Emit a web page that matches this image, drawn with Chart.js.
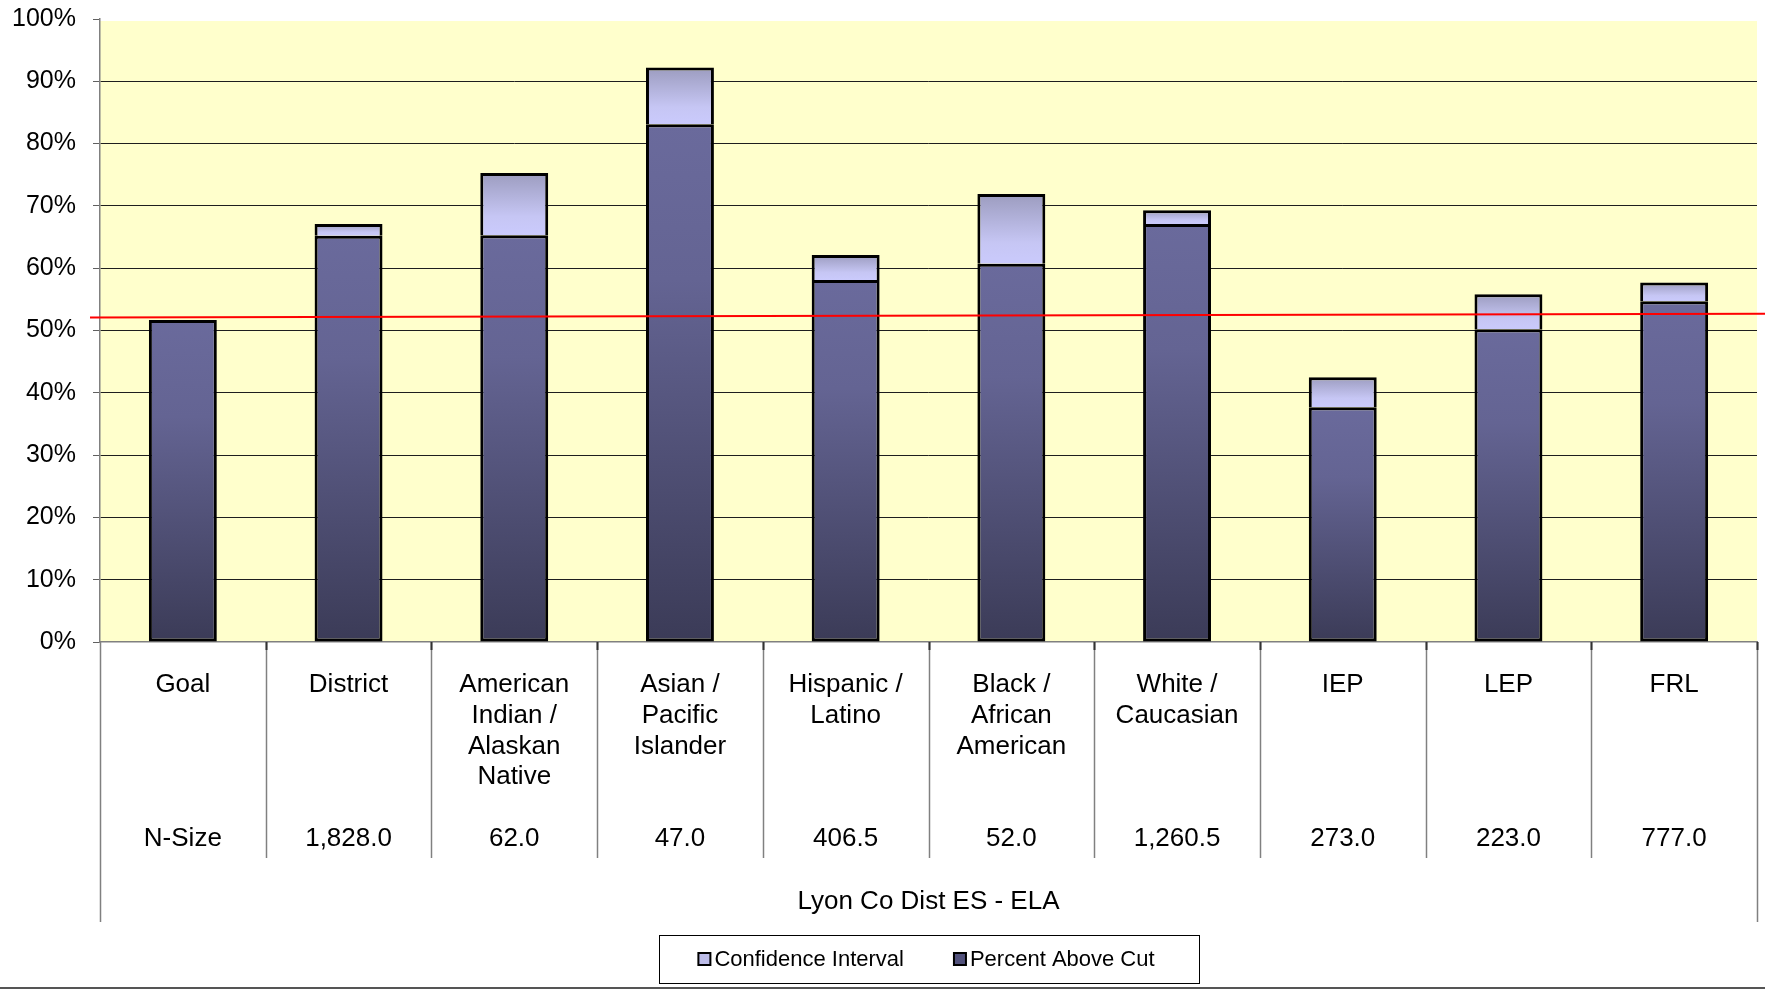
<!DOCTYPE html>
<html lang="en">
<head>
    <meta charset="UTF-8">
    <title>Lyon Co Dist ES - ELA</title>
    <script src="https://cdn.jsdelivr.net/npm/chart.js"></script>
    <style>
        body {
            margin: 0;
            background: #ffffff;
        }
        .chart-box {
            width: 1765px;
            height: 989px;
        }
    </style>
</head>
<body>
    <div class="chart-box">
        <canvas id="esChart" width="1765" height="989"></canvas>
    </div>

    <script>
        // category labels (lines as printed) and the N-Size row under them
        const categories = [
            ['Goal'],
            ['District'],
            ['American', 'Indian /', 'Alaskan', 'Native'],
            ['Asian /', 'Pacific', 'Islander'],
            ['Hispanic /', 'Latino'],
            ['Black /', 'African', 'American'],
            ['White /', 'Caucasian'],
            ['IEP'],
            ['LEP'],
            ['FRL']
        ];
        const nSizes = ['N-Size', '1,828.0', '62.0', '47.0', '406.5', '52.0', '1,260.5', '273.0', '223.0', '777.0'];

        // percent above cut (dark bars) and top of confidence interval (light caps)
        const percentAboveCut = [51.7, 65.2, 65.3, 83.1, 58.1, 60.7, 67.1, 37.7, 50.2, 54.7];
        const ciUpper = [null, 67.1, 75.3, 92.2, 62.1, 71.9, 69.3, 42.5, 55.8, 57.7];

        // red goal line, value at left edge and at right edge
        const goalLine = [52.1, 52.7];

        const yMin = 0, yMax = 100, yStep = 10;
        const axisTitle = 'Lyon Co Dist ES - ELA';

        const FONT = '"Liberation Sans", Arial, sans-serif';
        Chart.defaults.font.family = FONT;
        Chart.defaults.color = '#000000';

        // pad every label to the same number of lines so N-Size sits on one row
        const xLabels = categories.map(function (lines, i) {
            const out = lines.slice();
            while (out.length < 5) out.push('');
            out.push(nSizes[i]);
            return out;
        });

        const ciData = ciUpper.map(function (v, i) {
            return v === null ? null : [percentAboveCut[i], v];
        });

        function barGradient(context, stops, fallback) {
            const chart = context.chart;
            if (!chart.chartArea || context.raw === null || context.raw === undefined) return fallback;
            const y = chart.scales.y;
            let lo, hi;
            if (Array.isArray(context.raw)) {
                lo = context.raw[0];
                hi = context.raw[1];
            } else {
                lo = 0;
                hi = context.raw;
            }
            const top = y.getPixelForValue(hi);
            const bottom = y.getPixelForValue(lo);
            if (!(bottom > top)) return fallback;
            const g = chart.ctx.createLinearGradient(0, top, 0, bottom);
            stops.forEach(function (s) { g.addColorStop(s[0], s[1]); });
            return g;
        }

        const darkStops = [[0, '#6a6a9c'], [0.3, '#646493'], [1, '#3b3b57']];
        const ciStops = [[0, '#9c9cbf'], [0.7, '#c6c6f4'], [1, '#cacafc']];

        const tablePlugin = {
            id: 'tablePlugin',
            beforeDraw(chart) {
                const a = chart.chartArea;
                const ctx = chart.ctx;
                ctx.save();
                ctx.fillStyle = '#ffffcc';
                ctx.fillRect(a.left, a.top + 2, a.right - a.left, a.bottom - a.top - 2);
                ctx.restore();
            },
            afterDatasetsDraw(chart) {
                const a = chart.chartArea;
                const ctx = chart.ctx;
                const y = chart.scales.y;
                ctx.save();
                ctx.strokeStyle = '#ff0000';
                ctx.lineWidth = 2;
                ctx.beginPath();
                ctx.moveTo(a.left - 10, y.getPixelForValue(goalLine[0]));
                ctx.lineTo(chart.width, y.getPixelForValue(goalLine[1]));
                ctx.stroke();
                ctx.restore();
            },
            afterDraw(chart) {
                const a = chart.chartArea;
                const ctx = chart.ctx;
                const n = categories.length;
                const w = (a.right - a.left) / n;
                ctx.save();
                // table separators under the axis
                ctx.strokeStyle = '#808080';
                ctx.lineWidth = 1.5;
                for (let i = 0; i <= n; i++) {
                    const x = Math.round(a.left + i * w) + 0.5;
                    const end = (i === 0 || i === n) ? 922 : 858;
                    ctx.beginPath();
                    ctx.moveTo(x, a.bottom);
                    ctx.lineTo(x, end);
                    ctx.stroke();
                }
                ctx.strokeStyle = '#333333';
                ctx.lineWidth = 2;
                for (let i = 1; i <= n; i++) {
                    const x = Math.round(a.left + i * w) + 0.5;
                    ctx.beginPath();
                    ctx.moveTo(x, a.bottom);
                    ctx.lineTo(x, a.bottom + 8);
                    ctx.stroke();
                }

                // legend with box
                const cx = (a.left + a.right) / 2;
                const boxTop = chart.height - 54, boxBottom = chart.height - 6;
                const midY = (boxTop + boxBottom) / 2;
                ctx.strokeStyle = '#000000';
                ctx.lineWidth = 1;
                ctx.strokeRect(Math.round(cx - 270) + 0.5, boxTop + 0.5, 540, boxBottom - boxTop);

                ctx.font = '22px ' + FONT;
                ctx.textBaseline = 'middle';
                ctx.textAlign = 'left';
                const items = chart.data.datasets.slice().reverse();
                const sq = 12, gap = 4, between = 50;
                const widths = items.map(function (d) { return ctx.measureText(d.label).width; });
                let total = 0;
                widths.forEach(function (tw, i) { total += sq + gap + tw + (i > 0 ? between : 0); });
                let x = cx - total / 2 - 2;
                items.forEach(function (d, i) {
                    ctx.fillStyle = d.legendColor;
                    ctx.fillRect(x, midY - sq / 2, sq, sq);
                    ctx.lineWidth = 2;
                    ctx.strokeStyle = '#000000';
                    ctx.strokeRect(x, midY - sq / 2, sq, sq);
                    ctx.fillStyle = '#000000';
                    ctx.fillText(d.label, x + sq + gap, midY + 1);
                    x += sq + gap + widths[i] + between;
                });

                // bottom rule of the picture
                ctx.strokeStyle = '#555555';
                ctx.lineWidth = 2;
                ctx.beginPath();
                ctx.moveTo(0, chart.height - 1);
                ctx.lineTo(chart.width, chart.height - 1);
                ctx.stroke();
                ctx.restore();
            }
        };

        const ctx = document.getElementById('esChart').getContext('2d');
        const esChart = new Chart(ctx, {
            type: 'bar',
            data: {
                labels: xLabels,
                datasets: [
                    {
                        label: 'Percent Above Cut',
                        data: percentAboveCut,
                        legendColor: '#52527c',
                        backgroundColor: function (c) { return barGradient(c, darkStops, '#55557f'); },
                        borderColor: '#000000',
                        borderWidth: 3,
                        borderSkipped: false,
                        barPercentage: 0.41,
                        categoryPercentage: 1.0
                    },
                    {
                        label: 'Confidence Interval',
                        data: ciData,
                        legendColor: '#bcbce8',
                        backgroundColor: function (c) { return barGradient(c, ciStops, '#bcbce8'); },
                        borderColor: '#000000',
                        borderWidth: { top: 3, left: 3, right: 3, bottom: 0 },
                        borderSkipped: false,
                        barPercentage: 0.41,
                        categoryPercentage: 1.0
                    }
                ]
            },
            options: {
                responsive: false,
                animation: false,
                devicePixelRatio: 1,
                layout: {
                    padding: { top: 19, right: 8, bottom: 60, left: 0 }
                },
                plugins: {
                    legend: { display: false },
                    tooltip: { enabled: false },
                    title: { display: false }
                },
                scales: {
                    x: {
                        stacked: true,
                        grid: { display: false },
                        border: { display: true, color: '#808080', width: 1.5 },
                        ticks: {
                            autoSkip: false,
                            maxRotation: 0,
                            padding: 19,
                            color: '#000000',
                            font: { size: 26, lineHeight: 1.19 }
                        },
                        title: {
                            display: true,
                            text: axisTitle,
                            color: '#000000',
                            font: { size: 26, lineHeight: 1.19 },
                            padding: { top: 0, bottom: 12 }
                        },
                        afterFit: function (scale) { scale.height = 287; }
                    },
                    y: {
                        stacked: false,
                        min: yMin,
                        max: yMax,
                        ticks: {
                            stepSize: yStep,
                            padding: 17,
                            color: '#000000',
                            font: { size: 25 },
                            callback: function (v) { return v + '%'; }
                        },
                        grid: {
                            color: function (c) {
                                const v = c.tick ? c.tick.value : null;
                                return (v === yMax || v === yMin) ? 'rgba(0,0,0,0)' : '#1e1e1e';
                            },
                            lineWidth: 1,
                            tickColor: '#606060',
                            tickLength: 7
                        },
                        border: { display: true, color: '#808080', width: 1.5 },
                        afterFit: function (scale) {
                            scale.width = 100;
                            scale.paddingTop = 0;
                            scale.paddingBottom = 0;
                        }
                    }
                }
            },
            plugins: [tablePlugin]
        });
    </script>
</body>
</html>
